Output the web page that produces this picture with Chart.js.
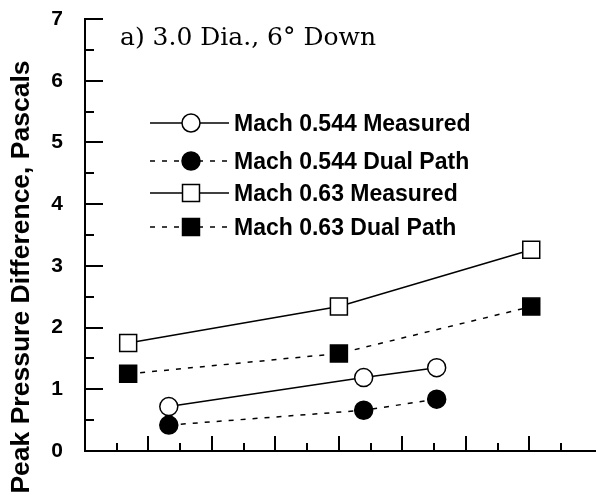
<!DOCTYPE html>
<html>
<head>
<meta charset="utf-8">
<script src="https://cdn.jsdelivr.net/npm/chart.js@4/dist/chart.umd.min.js"></script>
<style>
  html, body { margin: 0; padding: 0; background: #fff; }
  #wrap { width: 596px; height: 500px; }
</style>
</head>
<body>
<div id="wrap"><canvas id="c" width="596" height="500"></canvas></div>
<script>
// Peak pressure difference, 3.0 dia. model at 6 deg down
const panelTitle = 'a) 3.0 Dia., 6\u00B0 Down';
const yAxisTitle = 'Peak Pressure Difference, Pascals';
const yTickLabels = ['0', '1', '2', '3', '4', '5', '6', '7'];

const seriesNames = [
  'Mach 0.544 Measured',
  'Mach 0.544 Dual Path',
  'Mach 0.63 Measured',
  'Mach 0.63 Dual Path'
];

// station positions along the (unlabelled) horizontal axis
const xMach544 = [1.32, 4.39, 5.54];
const xMach63 = [0.68, 4.0, 7.03];

const mach544Measured = [0.72, 1.19, 1.35];
const mach544DualPath = [0.42, 0.66, 0.84];
const mach63Measured = [1.75, 2.34, 3.26];
const mach63DualPath = [1.25, 1.58, 2.34];

const pts = (xs, ys) => xs.map((x, i) => ({ x: x, y: ys[i] }));

function series(label, data, style, filled, dashed) {
  return {
    label: label,
    data: data,
    showLine: true,
    tension: 0,
    borderColor: '#000',
    borderWidth: 1.5,
    borderDash: dashed ? [5, 7] : [],
    pointStyle: style,
    pointRadius: style === 'rect' ? 12 : 9,
    pointHoverRadius: style === 'rect' ? 12 : 9,
    pointBorderWidth: 1.5,
    pointBorderColor: '#000',
    pointBackgroundColor: filled ? '#000' : '#fff'
  };
}

// inward tick marks on both axes
const inwardTicks = {
  id: 'inwardTicks',
  afterDatasetsDraw(chart) {
    const ctx = chart.ctx;
    const xs = chart.scales.x, ys = chart.scales.y;
    const area = chart.chartArea;
    ctx.save();
    ctx.strokeStyle = '#000';
    ctx.lineWidth = 2;
    ctx.setLineDash([]);
    ys.ticks.forEach(t => {
      const v = t.value;
      if (Math.abs(v * 2 - Math.round(v * 2)) > 1e-6) return;
      const major = Math.abs(v - Math.round(v)) < 1e-6;
      const py = Math.round(ys.getPixelForValue(v));
      ctx.beginPath();
      ctx.moveTo(area.left, py);
      ctx.lineTo(area.left + (major ? 18 : 9), py);
      ctx.stroke();
    });
    xs.ticks.forEach(t => {
      const v = t.value;
      if (v <= 0) return;
      if (Math.abs(v * 2 - Math.round(v * 2)) > 1e-6) return;
      const major = Math.abs(v - Math.round(v)) < 1e-6;
      const px = Math.round(xs.getPixelForValue(v));
      ctx.beginPath();
      ctx.moveTo(px, area.bottom);
      ctx.lineTo(px, area.bottom - (major ? 15 : 8));
      ctx.stroke();
    });
    ctx.restore();
  }
};

// panel caption, vertical axis title and in-plot key
const keyAndCaption = {
  id: 'keyAndCaption',
  afterDraw(chart) {
    const ctx = chart.ctx;
    ctx.save();
    ctx.fillStyle = '#000';
    ctx.textBaseline = 'alphabetic';
    ctx.textAlign = 'left';
    ctx.font = '25px "DejaVu Serif"';
    ctx.fillText(panelTitle, 120, 45);

    ctx.save();
    ctx.translate(22, 277);
    ctx.rotate(-Math.PI / 2);
    ctx.textAlign = 'center';
    ctx.textBaseline = 'middle';
    ctx.font = 'bold 26.5px "Liberation Sans"';
    ctx.fillText(yAxisTitle, 0, 0);
    ctx.restore();

    const rowsY = [123, 161, 193, 227];
    const lineL = 150, lineR = 229, markX = 191;
    chart.data.datasets.forEach((ds, i) => {
      const y = rowsY[i];
      ctx.strokeStyle = '#000';
      ctx.lineWidth = ds.borderWidth;
      ctx.setLineDash(ds.borderDash);
      ctx.beginPath();
      ctx.moveTo(lineL, y);
      ctx.lineTo(lineR, y);
      ctx.stroke();
      ctx.setLineDash([]);
      ctx.fillStyle = ds.pointBackgroundColor;
      ctx.strokeStyle = ds.pointBorderColor;
      ctx.lineWidth = ds.pointBorderWidth;
      Chart.helpers.drawPoint(ctx, {
        pointStyle: ds.pointStyle,
        radius: ds.pointRadius,
        rotation: 0,
        borderWidth: ds.pointBorderWidth
      }, markX, y);
      ctx.fillStyle = '#000';
      ctx.font = 'bold 23px "Liberation Sans"';
      ctx.fillText(ds.label, 234, y + 8);
    });
    ctx.restore();
  }
};

new Chart(document.getElementById('c'), {
  type: 'scatter',
  data: {
    datasets: [
      series(seriesNames[0], pts(xMach544, mach544Measured), 'circle', false, false),
      series(seriesNames[1], pts(xMach544, mach544DualPath), 'circle', true, true),
      series(seriesNames[2], pts(xMach63, mach63Measured), 'rect', false, false),
      series(seriesNames[3], pts(xMach63, mach63DualPath), 'rect', true, true)
    ]
  },
  options: {
    responsive: false,
    animation: false,
    devicePixelRatio: 1,
    layout: { autoPadding: false, padding: { top: 19, right: 0, bottom: 49, left: 0 } },
    plugins: {
      legend: { display: false },
      tooltip: { enabled: false },
      title: { display: false }
    },
    scales: {
      x: {
        type: 'linear',
        min: 0,
        max: 8.05,
        afterFit(scale) { scale.paddingLeft = 0; scale.paddingRight = 0; },
        ticks: { display: false, stepSize: 0.5 },
        grid: { display: false, drawTicks: false },
        border: { display: true, color: '#000', width: 2 }
      },
      y: {
        type: 'linear',
        min: 0,
        max: 7,
        afterFit(scale) {
          scale.width = 85;
          scale.paddingTop = 0;
          scale.paddingBottom = 0;
        },
        ticks: {
          stepSize: 0.5,
          autoSkip: false,
          padding: 22,
          color: '#000',
          font: { family: '"Liberation Sans"', size: 21, weight: 'bold' },
          callback(v) {
            return Number.isInteger(v) ? yTickLabels[v] : '';
          }
        },
        grid: { display: false, drawTicks: false },
        border: { display: true, color: '#000', width: 2 }
      }
    }
  },
  plugins: [inwardTicks, keyAndCaption]
});
</script>
</body>
</html>
